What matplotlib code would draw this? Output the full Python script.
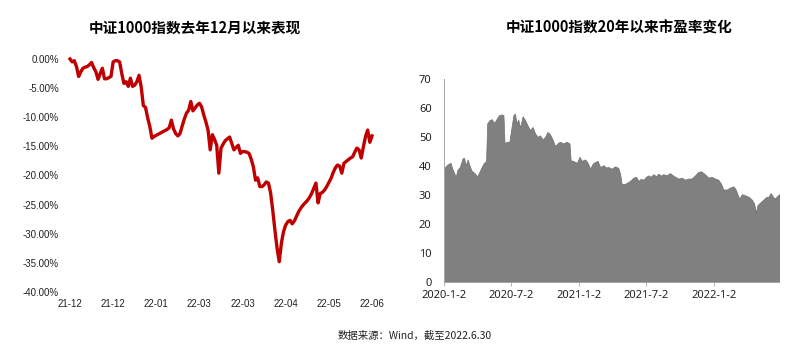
import matplotlib
matplotlib.use("Agg")
import matplotlib.pyplot as plt
import pandas as pd

plt.rcParams['font.family'] = ['Noto Sans CJK SC', 'DejaVu Sans']

# left: CSI 1000 cumulative return since Dec 2021 (trading-day index, %)
ret_day = list(range(141))
ret_val = [0.0, -0.5, -0.3, -1.3, -3.0, -2.2, -1.6, -1.4, -1.3, -1.0,
           -0.6, -1.5, -2.2, -3.5, -2.5, -1.6, -3.4, -3.4, -3.2, -3.0,
           -0.5, -0.3, -0.3, -0.5, -2.5, -4.2, -3.9, -4.7, -3.3, -4.7,
           -4.5, -3.9, -2.8, -4.8, -8.0, -8.3, -10.1, -11.6, -13.6, -13.3,
           -13.1, -12.9, -12.7, -12.5, -12.3, -12.1, -11.8, -10.5, -12.0, -12.8,
           -13.2, -12.8, -11.5, -10.3, -9.3, -8.8, -7.3, -8.9, -8.4, -7.9,
           -7.6, -8.2, -9.6, -10.8, -12.2, -15.6, -13.0, -13.8, -14.8, -19.6,
           -15.3, -14.6, -14.0, -13.7, -13.4, -14.5, -15.6, -15.2, -14.8, -16.2,
           -15.9, -15.9, -16.0, -16.2, -17.2, -18.5, -20.8, -20.4, -21.9, -21.9,
           -21.6, -21.1, -21.3, -23.0, -26.0, -29.4, -32.5, -34.8, -31.6, -29.6,
           -28.5, -27.9, -27.7, -28.3, -27.8, -27.0, -26.2, -25.6, -25.1, -24.7,
           -24.3, -23.8, -23.1, -22.2, -21.3, -24.7, -23.1, -22.9, -22.5, -21.9,
           -21.2, -20.5, -19.5, -18.7, -18.2, -18.4, -19.6, -17.9, -17.6, -17.3,
           -17.0, -16.8, -16.0, -15.3, -15.6, -17.0, -15.1, -13.3, -12.2, -14.3,
           -13.2]
ret_ticks = [0, 20, 40, 60, 80, 100, 120, 140]
ret_labels = ['21-12', '21-12', '22-01', '22-03', '22-03', '22-04', '22-05', '22-06']

# right: PE since 2020 (days after 2020-01-02)
pe_day = [0, 7, 14, 18, 21, 25, 32, 36, 43, 50, 54, 59, 64, 70, 75, 79, 84, 90, 96,
          102, 107, 114, 117, 123, 129, 136, 143, 149, 156, 161, 164, 170, 177,
          183, 188, 192, 197, 201, 206, 213, 220, 226, 233, 240, 247, 254, 260,
          267, 274, 280, 287, 294, 301, 307, 314, 323, 332, 340, 343, 350, 360,
          367, 373, 382, 388, 396, 403, 409, 416, 423, 432, 439, 445, 454, 463,
          472, 477, 481, 488, 495, 504, 513, 520, 527, 533, 540, 547, 554, 560,
          567, 575, 581, 587, 594, 603, 612, 620, 626, 635, 644, 653, 662, 671,
          680, 689, 696, 703, 710, 716, 725, 734, 743, 750, 757, 766, 775, 784,
          789, 795, 800, 807, 816, 825, 834, 840, 845, 849, 856, 865, 873, 879,
          885, 891, 897, 902, 908]
pe_val = [39.1, 40.3, 40.9, 41.1, 39.7, 38.3, 36.3, 38.6, 39.7, 42.6, 42.9, 40.3,
          42.3, 39.9, 38.3, 38.0, 37.4, 36.5, 38.0, 39.7, 40.9, 41.8, 54.7, 55.8,
          56.2, 54.9, 56.4, 57.6, 57.8, 57.6, 47.8, 48.4, 48.4, 53.5, 57.6, 58.1,
          54.7, 56.1, 53.3, 57.2, 55.8, 54.1, 52.4, 53.5, 51.2, 50.1, 50.6, 49.2,
          50.1, 51.8, 51.0, 49.2, 46.9, 47.8, 48.4, 47.8, 48.4, 47.8, 42.0, 41.8,
          41.1, 43.2, 41.8, 42.3, 41.4, 39.1, 40.9, 41.4, 41.8, 39.7, 40.3, 39.5,
          39.7, 39.1, 39.9, 39.4, 37.4, 34.0, 33.7, 34.2, 34.9, 36.0, 36.3, 34.9,
          35.6, 35.3, 36.3, 36.8, 36.3, 37.2, 36.5, 37.4, 36.7, 37.2, 36.8, 37.6,
          36.8, 36.3, 35.7, 36.0, 35.3, 35.7, 35.7, 36.8, 38.0, 38.2, 37.6, 36.8,
          36.0, 36.3, 35.7, 35.3, 34.0, 31.9, 31.9, 32.6, 33.0, 32.2, 30.3, 28.8,
          30.3, 29.9, 29.4, 28.4, 27.1, 24.0, 26.5, 27.4, 28.4, 29.4, 29.4, 30.7,
          29.4, 28.8, 29.6, 30.3]
pe_ticks = ['2020-01-02', '2020-07-02', '2021-01-02', '2021-07-02', '2022-01-02']
pe_labels = ['2020-1-2', '2020-7-2', '2021-1-2', '2021-7-2', '2022-1-2']

pe_dates = pd.Timestamp('2020-01-02') + pd.to_timedelta(pe_day, unit='D')

fig = plt.figure(figsize=(8, 3.51), dpi=100)

# ---- left chart
ax1 = fig.add_axes([0.0875, 0.168, 0.3775, 0.664])
ax1.plot(ret_day, ret_val, color='#C00000', lw=2.4, clip_on=False, solid_joinstyle='round')
ax1.set_xlim(0, 140)
ax1.set_ylim(-40, 0)
ax1.set_yticks(range(-40, 1, 5))
ax1.set_yticklabels(['%.2f%%' % v for v in range(-40, 1, 5)],
                    family=['Liberation Sans', 'DejaVu Sans'], fontsize=7)
ax1.set_xticks(ret_ticks)
ax1.set_xticklabels(ret_labels, family=['Liberation Sans', 'DejaVu Sans'], fontsize=7)
ax1.tick_params(length=0, pad=5, colors='#222222')
ax1.tick_params(axis='y', pad=8)
for s in ax1.spines.values():
    s.set_visible(False)

# ---- right chart
ax2 = fig.add_axes([0.555, 0.1966, 0.419, 0.578])
ax2.fill_between(pe_dates, pe_val, 0, color='#808080', lw=0.5, edgecolor='#707070')
ax2.set_xlim(pe_dates[0], pe_dates[-1])
ax2.set_ylim(0, 70)
ax2.set_yticks(range(0, 71, 10))
ax2.set_xticks(pd.to_datetime(pe_ticks))
ax2.set_xticklabels(pe_labels)
for lab in ax2.get_xticklabels() + ax2.get_yticklabels():
    lab.set_family(['Noto Sans', 'DejaVu Sans'])
    lab.set_fontsize(8)
ax2.tick_params(axis='y', length=0, pad=9, colors='#222222')
ax2.tick_params(axis='x', length=3, width=0.6, color='#a6a6a6', pad=3, labelcolor='#222222')
ax2.spines['top'].set_visible(False)
ax2.spines['right'].set_visible(False)
ax2.spines['left'].set_color('#a6a6a6')
ax2.spines['bottom'].set_color('#a6a6a6')
ax2.spines['left'].set_linewidth(0.7)
ax2.spines['bottom'].set_linewidth(0.7)

# titles and source
fig.text(0.244, 0.922, '中证1000指数去年12月以来表现', ha='center', va='center',
         fontsize=10.5, fontweight='bold')
fig.text(0.774, 0.922, '中证1000指数20年以来市盈率变化', ha='center', va='center',
         fontsize=10.5, fontweight='bold')
fig.text(0.518, 0.045, '数据来源：Wind，截至2022.6.30', ha='center', va='center',
         fontsize=7.5, color='#222222')

fig.savefig('out.png', dpi=100)
